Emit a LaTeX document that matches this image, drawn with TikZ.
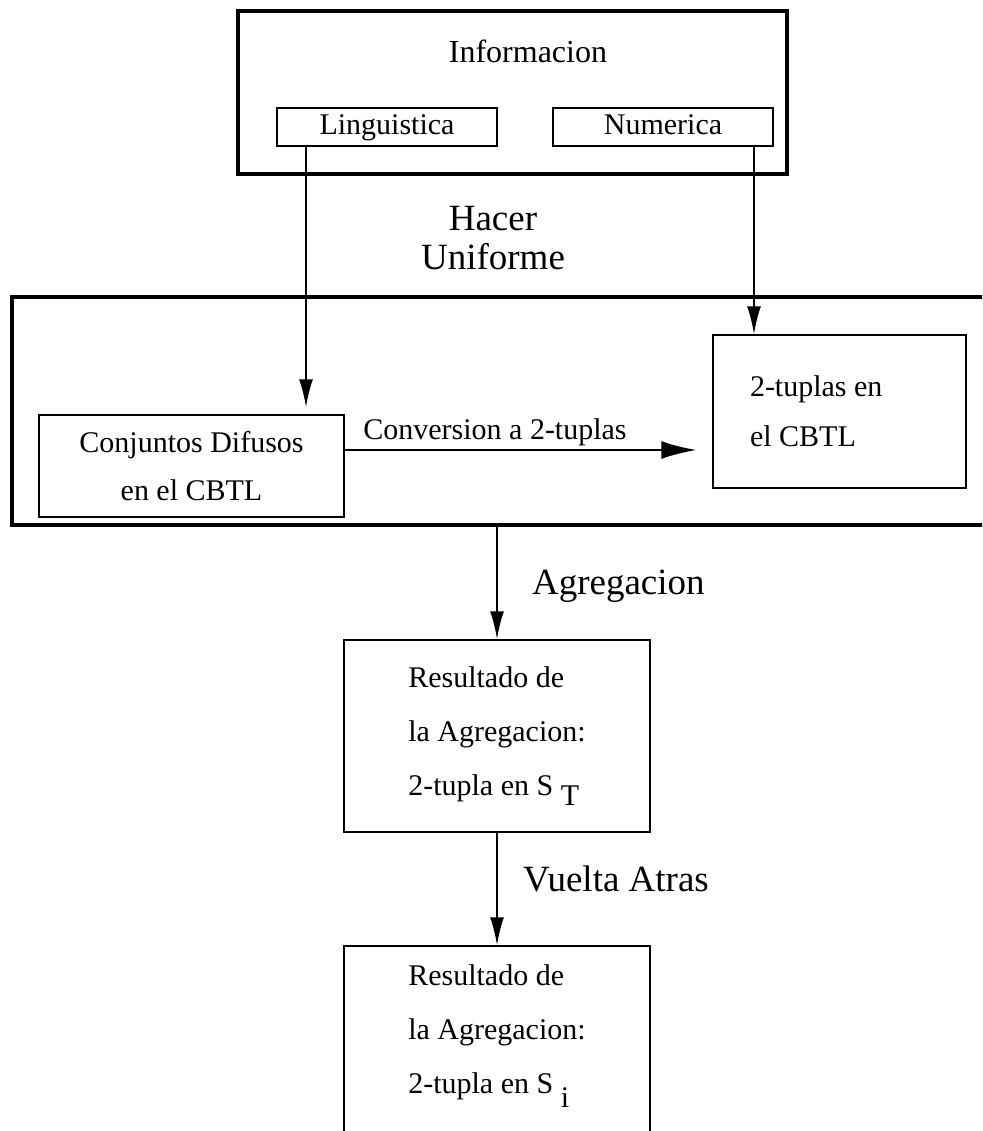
\documentclass[tikz,border=0pt]{standalone}
\usepackage{fontspec}
\setmainfont{Liberation Serif}
\usetikzlibrary{arrows.meta,calc,positioning}

\tikzset{
  bordo/.style={draw, line width=2pt, inner sep=0pt},
  casella/.style={draw, line width=0.75pt, inner sep=0pt, align=center},
  freccia/.style={-{Latex[length=14pt,width=7pt]}, line width=1pt},
  grande/.style={font=\fontsize{18.5}{19.5}\selectfont},
}

\begin{document}
\begin{tikzpicture}[x=0.5pt, y=-0.5pt, font=\fontsize{15}{24}\selectfont]
    \path[use as bounding box, clip] (0,0) rectangle (982,1131);

    % Informacion
    \node[bordo, minimum width=274.5pt, minimum height=81.5pt] (info) at (512.5,92.5) {};
    \node[font=\fontsize{16}{19}\selectfont] (infotxt) at (528,51) {Informacion};
    \node[casella, minimum width=110pt, minimum height=19pt, text height=10.5pt, text depth=3.5pt] (ling) at (387,127) {Linguistica};
    \node[casella, minimum width=110pt, minimum height=19pt, text height=10.5pt, text depth=3.5pt] (num) at (663,127) {Numerica};

    \node[grande, align=center] (unif) at (493,238) {Hacer\\Uniforme};

    % Bloque uniforme
    \node[bordo, minimum width=494pt, minimum height=114pt] (mid) at (506,411) {};
    \node[casella, minimum width=152.5pt, minimum height=51pt] (conj) at (191.5,466) {Conjuntos Difusos\\en el CBTL};
    \node[casella, text width=89.5pt, inner xsep=18.5pt, minimum height=76.5pt, align=flush left,
          font=\fontsize{15}{25}\selectfont] (tup) at (839.5,411.5) {2-tuplas en\\el CBTL};
    \node (conv) at (495,432) {Conversion a 2-tuplas};

    \draw[freccia, shorten >=3.5pt] (ling.south -| 306,0) -- (conj.north -| 306,0);
    \draw[freccia] (num.south -| 754,0) -- (tup.north -| 754,0);
    \draw[line width=1pt, -{Latex[length=17.5pt,width=9pt]}, shorten >=8pt] (conj.east |- 0,450) -- (tup.west |- 0,450);

    % Agregacion
    \node[casella, minimum width=153pt, minimum height=96pt, align=left,
          font=\fontsize{15}{27}\selectfont] (res1) at (497,736)
        {Resultado de\\la Agregacion:\\2-tupla en S \raisebox{-5pt}{T}};
    \node[grande, anchor=west] (agr) at (525,586) {Agregacion};
    \draw[freccia] (mid.south -| res1.north) -- (res1.north);

    % Vuelta atras
    \node[casella, minimum width=153pt, minimum height=125pt, align=left,
          font=\fontsize{15}{27}\selectfont, text depth=42pt] (res2) at (497,1071)
        {Resultado de\\la Agregacion:\\2-tupla en S \raisebox{-7pt}{i}};
    \node[grande, anchor=west] (vuel) at (516,879) {Vuelta Atras};
    \draw[freccia] (res1.south) -- (res2.north);
\end{tikzpicture}
\end{document}
